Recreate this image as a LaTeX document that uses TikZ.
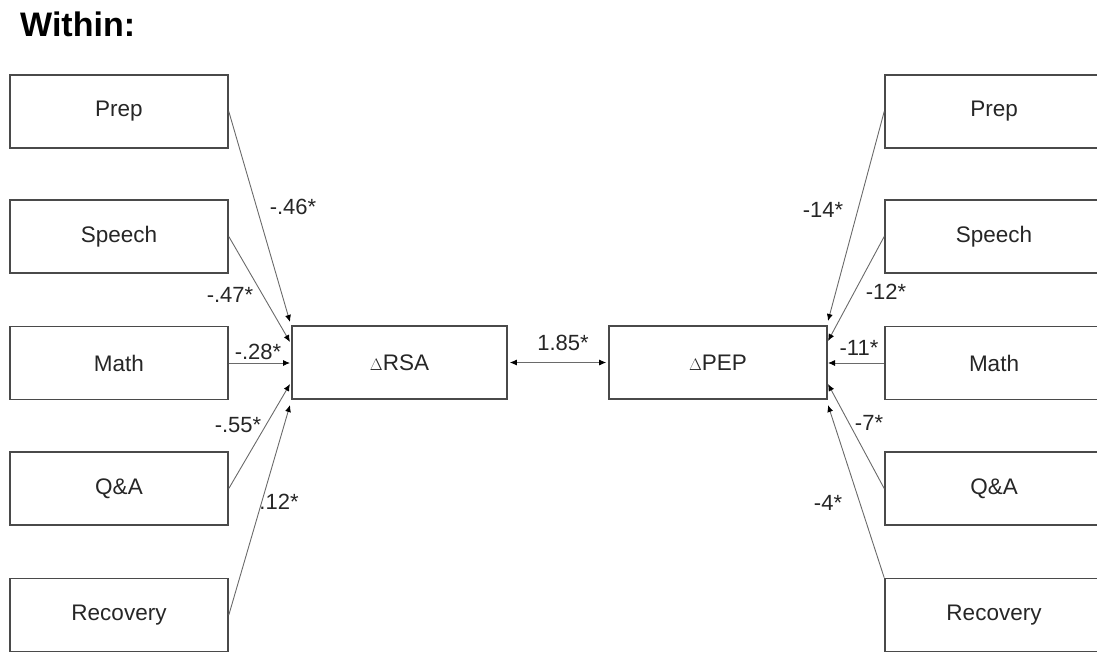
\documentclass[tikz,border=0pt]{standalone}
\usepackage{fontspec}
\setmainfont{Liberation Sans}
\usetikzlibrary{arrows.meta}
\definecolor{boxc}{HTML}{4A4A4A}
\definecolor{linec}{HTML}{6A6A6A}
\definecolor{txt}{HTML}{262626}
\begin{document}
\begin{tikzpicture}[x=1pt,y=-1pt,
  box/.style={draw=boxc, line width=1.6pt, minimum width=218pt, minimum height=73pt, inner sep=0pt, font=\fontsize{22.5}{26}\selectfont, text=txt},
  conn/.style={draw=linec, line width=0.9pt, -{Latex[length=7pt,width=6pt,color=black]}},
  lab/.style={font=\fontsize{22}{26}\selectfont, text=txt, inner sep=0pt}]
\useasboundingbox (0,0) rectangle (1097,653);
\begin{scope}
\clip (0,0) rectangle (1097,653);
\node[anchor=base west, font=\bfseries\fontsize{34}{38}\selectfont, text=black, inner sep=0pt] (title) at (20,36) {Within:};
% left boxes
\node[box] (lprep) at (119,111.5) {Prep};
\node[box] (lspe) at (119,236.5) {Speech};
\node[box] (lmat) at (119,363) {Math};
\node[box] (lqa) at (119,488.5) {Q\&A};
\node[box] (lrec) at (119,615) {Recovery};
% centre boxes
\node[box, minimum width=215pt] (rsa) at (399.5,362.5) {{\scalebox{0.8}{$\Delta$}}RSA};
\node[box] (pep) at (718,362.5) {{\scalebox{0.8}{$\Delta$}}PEP};
% right boxes
\node[box] (rprep) at (994,111.5) {Prep};
\node[box] (rspe) at (994,236.5) {Speech};
\node[box] (rmat) at (994,363) {Math};
\node[box] (rqa) at (994,488.5) {Q\&A};
\node[box] (rrec) at (994,615) {Recovery};
% end points
\coordinate (la1) at (290,322);
\coordinate (la2) at (290,342);
\coordinate (la3) at (290,363);
\coordinate (la4) at (290,384);
\coordinate (la5) at (290,405);
\coordinate (ra1) at (828,321);
\coordinate (ra2) at (828,341);
\coordinate (ra3) at (828,363);
\coordinate (ra4) at (828,384);
\coordinate (ra5) at (828,405);
% connectors
\draw[conn] (lprep.east) -- (la1);
\draw[conn] (lspe.east) -- (la2);
\draw[conn] (lmat.east) -- (la3);
\draw[conn] (lqa.east) -- (la4);
\draw[conn] (lrec.east) -- (la5);
\draw[conn] (rprep.west) -- (ra1);
\draw[conn] (rspe.west) -- (ra2);
\draw[conn] (rmat.west) -- (ra3);
\draw[conn] (rqa.west) -- (ra4);
\draw[conn] (rrec.north west) -- (ra5);
\draw[conn, {Latex[length=7pt,width=6pt,color=black]}-{Latex[length=7pt,width=6pt,color=black]}, shorten <=2pt, shorten >=2pt] (rsa.east) -- (pep.west);
% labels
\node[lab] (l1) at (293,207) {-.46*};
\node[lab] (l2) at (230,295) {-.47*};
\node[lab] (l3) at (258,352) {-.28*};
\node[lab] (l4) at (238,425) {-.55*};
\node[lab] (l5) at (279,502) {.12*};
\node[lab] (c1) at (563,343) {1.85*};
\node[lab] (r1) at (823,210) {-14*};
\node[lab] (r2) at (886,292) {-12*};
\node[lab] (r3) at (859,348) {-11*};
\node[lab] (r4) at (869,423) {-7*};
\node[lab] (r5) at (828,503) {-4*};
\end{scope}
\end{tikzpicture}
\end{document}
